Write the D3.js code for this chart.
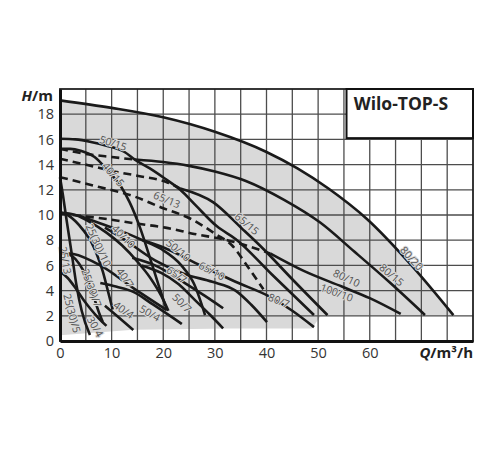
<!DOCTYPE html>
<html><head><meta charset="utf-8">
<script src="https://cdnjs.cloudflare.com/ajax/libs/d3/7.8.5/d3.min.js"></script>
<style>body{margin:0;background:#fff}</style>
</head><body>
<svg id="c" width="500" height="450"></svg>
<script>
// ---- data (Q in m3/h, H in m) ----
const xTicks = [0,10,20,30,40,50,60];
const yTicks = [0,2,4,6,8,10,12,14,16,18];
const c80_20 = [[0,19.1],[10,18.5],[20,17.75],[30,16.6],[40,15.0],[46,13.7],[52,12.1],[59.4,9.7],[68.3,5.9],[76.2,2.05]];
const c80_15a = [[0,15.25],[5,14.85],[10,14.6],[14.5,14.4]];
const c80_15 = [[14.5,14.4],[20,14.2],[25,13.9],[30,13.45],[36,12.7],[43.4,11.2],[50.4,9.4],[57,7.1],[64,4.6],[70.7,2.06]];
const c50_15 = [[0,16.05],[3,16.0],[6,15.8],[9,15.5],[12.5,15.0],[14.5,14.4],[17.4,13.7],[20.3,12.9],[23.3,12.0],[26.2,10.8],[30.4,9.1],[34,8.1],[41,5.3],[49.2,2.06]];
const c40_15 = [[0,15.25],[2,15.25],[4,15.1],[6.7,14.6],[9.3,13.5],[11.9,12.2],[13.5,11.0],[15.5,9.0],[17.5,6.5],[19.2,4.3],[20.7,2.45]];
const c65_15a = [[0,14.46],[6.5,13.85],[10,13.5],[15.2,13.1],[20.7,12.6],[23.3,12.1]];
const c65_15 = [[23.3,12.1],[29.7,11.0],[35.3,8.9],[39.4,7.3],[45,4.9],[51.8,2.06]];
const c65_13 = [[0,13.0],[4,12.6],[7.8,12.2],[14.2,11.5],[19.6,10.6],[25.3,9.7],[30.1,8.5],[33.3,7.6],[36.2,6.0],[39.4,4.1]];
const c80_10a = [[0,10.1],[8.7,9.7],[15.2,9.3],[20.4,9.0],[26,8.5],[32.4,8.0],[40.7,6.95]];
const c80_10 = [[40.7,6.95],[47,5.6],[54.7,4.3],[60,3.4],[66,2.15]];
const c25_13 = [[0,13.0],[0.6,11.5],[1.2,9.8],[1.8,8.2],[2.5,6.3],[3.2,4.4],[4.2,2.4],[5.8,0.47]];
const c25_10 = [[0,10.2],[1.5,10.0],[3,9.5],[4.5,8.8],[6,7.9],[7.2,6.8],[8.3,5.5],[9.2,4.1],[10.2,2.5]];
const c25_7 = [[0,7.0],[1.5,6.9],[3,6.5],[4.5,5.6],[5.7,4.5],[6.7,3.3],[7.6,2.2],[8.3,1.5]];
const c25_5 = [[0,5.5],[1.5,5.0],[3,4.2],[4.5,3.3],[6,2.5],[7.5,1.8],[9,1.2]];
const c40_10 = [[0,10.2],[3,10.0],[6,9.4],[9,8.6],[12,7.6],[15,6.3],[17.5,5.0],[19.6,3.6],[21,2.4]];
const c40_7 = [[0,7.0],[2.6,6.9],[7.8,6.0],[14.2,4.2],[20.7,2.45]];
const c40_4 = [[8.7,2.8],[11,2.0],[14.2,0.87]];
const c50_4 = [[7.8,4.6],[11,4.3],[14.2,3.9],[18,2.9],[23.6,1.35]];
const c50_10 = [[4,9.9],[8,9.3],[12,8.7],[16,8.0],[19.6,7.3],[23.5,6.0],[26,4.5],[28.1,2.06]];
const c65_10 = [[8.7,9.0],[11.9,8.2],[18.4,6.4],[24.2,5.3],[29.5,4.7],[34,4.0],[37,2.9],[40.1,1.5]];
const c65_7 = [[14,6.6],[18.4,6.0],[24.2,4.6],[28,3.6],[31.6,2.6]];
const c50_7 = [[15.8,6.0],[19.6,5.4],[23,4.5],[26,3.3],[29,2.1],[31.6,1.0]];
const c80_7 = [[16,8.0],[19.6,7.5],[27.2,6.0],[34,4.7],[40.7,3.5],[45,2.4],[49.2,1.1]];
const areaBottom = [[0,0.45],[7.8,0.7],[14.2,0.9],[33,1.0],[48.8,1.0],[50.5,2.0],[76.2,2.0]];
const labelNames = ["50/15","40/15","65/13","65/15","40/10","25(30)/10","25/13","40/7","25(30)/7","25(30)/5","30/4","40/4","50/4","50/10","65/7","50/7","65/10","80/7","80/10","100/10","80/15","80/20"];
const labelQ = [10.3,10.3,20.7,36.2,12.3,7.4,1.0,12.6,6.1,2.3,6.8,12.3,17.4,22.9,22.6,23.6,29.4,42.4,55.5,53.6,64.2,68.1];
const labelH = [15.7,13.2,11.2,9.3,8.3,7.6,6.4,5.0,4.2,2.2,1.13,2.46,2.2,7.2,5.24,3.0,5.56,3.2,4.98,3.83,5.24,6.56];
const labelAngle = [18,50,22,40,45,65,80,55,70,75,60,35,30,40,35,45,28,22,25,20,40,48];

const series = [
  {d:c80_20},{d:c80_15a,dash:true},{d:c80_15},{d:c50_15},{d:c40_15},
  {d:c65_15a,dash:true},{d:c65_15},{d:c65_13,dash:true},{d:c80_10a,dash:true},{d:c80_10},
  {d:c25_13},{d:c25_10},{d:c25_7},{d:c25_5},{d:c40_10},{d:c40_7},{d:c40_4},{d:c50_4},
  {d:c50_10},{d:c65_10},{d:c65_7},{d:c50_7},{d:c80_7}
];

const svg = d3.select("#c");
const x = d3.scaleLinear().domain([0,80]).range([60,473]);
const y = d3.scaleLinear().domain([0,20]).range([341,89]);
const line = d3.line().x(d=>x(d[0])).y(d=>y(d[1])).curve(d3.curveMonotoneX);
const lineLin = d3.line().x(d=>x(d[0])).y(d=>y(d[1]));

// gray operating area (top follows the 80/20 curve)
const topPath = line(c80_20);
const botPath = lineLin(areaBottom.slice().reverse()).replace(/^M/,"L");
svg.append("path").attr("d", topPath + botPath + "Z").attr("fill","#d9d9d9");

// grid
const g = svg.append("g");
g.selectAll(".vx").data(d3.range(5,80,5)).join("line")
  .attr("x1",d=>x(d)).attr("x2",d=>x(d)).attr("y1",y(0)).attr("y2",y(20))
  .attr("stroke","#4d4d4d").attr("stroke-width",1.3);
g.selectAll(".hy").data(d3.range(2,20,2)).join("line")
  .attr("y1",d=>y(d)).attr("y2",d=>y(d)).attr("x1",x(0)).attr("x2",x(80))
  .attr("stroke","#4d4d4d").attr("stroke-width",1.3);

// curves
svg.append("g").selectAll("path").data(series).join("path")
  .attr("d",s=>line(s.d)).attr("fill","none")
  .attr("stroke","#1a1a1a").attr("stroke-width",2.6)
  .attr("stroke-dasharray",s=>s.dash?"8,5":null);

// labels
svg.append("g").selectAll("text").data(labelNames).join("text")
  .attr("transform",(d,i)=>`translate(${x(labelQ[i])},${y(labelH[i])}) rotate(${labelAngle[i]})`)
  .attr("text-anchor","middle").attr("dy","0.35em")
  .attr("font-family","'Open Sans', sans-serif").attr("font-size",10.5)
  .attr("fill","#505050")
  .attr("stroke","#d9d9d9").attr("stroke-width",2).attr("paint-order","stroke")
  .text(d=>d);

// frame
svg.append("rect").attr("x",x(0)).attr("y",y(20)).attr("width",x(80)-x(0)).attr("height",y(0)-y(20))
  .attr("fill","none").attr("stroke","#222").attr("stroke-width",1.8);

// axes
const xAxis = d3.axisBottom(x).tickValues(xTicks).tickSize(0).tickPadding(7);
const yAxis = d3.axisLeft(y).tickValues(yTicks).tickSize(0).tickPadding(6);
const ax = svg.append("g").attr("transform",`translate(0,${y(0)})`).call(xAxis);
const ay = svg.append("g").attr("transform",`translate(${x(0)},0)`).call(yAxis);
[ax,ay].forEach(a=>{
  a.select(".domain").attr("stroke","#111").attr("stroke-width",3);
  a.selectAll("text").attr("font-family","'Open Sans', sans-serif").attr("font-size",14.5).attr("fill","#333");
});

// title box
svg.append("rect").attr("x",x(55.5)).attr("y",y(20)).attr("width",x(80)-x(55.5)).attr("height",y(16.1)-y(20))
  .attr("fill","#fff").attr("stroke","#111").attr("stroke-width",2);
svg.append("text").attr("x",x(56.9)).attr("y",y(18.5)+2).attr("font-family","'Open Sans', sans-serif")
  .attr("font-weight","bold").attr("font-size",17.5).attr("fill","#222").text("Wilo-TOP-S");

// axis titles
const ht = svg.append("text").attr("x",53).attr("y",101).attr("text-anchor","end")
  .attr("font-family","'Open Sans', sans-serif").attr("font-weight","bold").attr("font-size",15).attr("fill","#222");
ht.append("tspan").attr("font-style","italic").text("H");
ht.append("tspan").text("/m");
const qt = svg.append("text").attr("x",473).attr("y",358).attr("text-anchor","end")
  .attr("font-family","'Open Sans', sans-serif").attr("font-weight","bold").attr("font-size",15).attr("fill","#222");
qt.append("tspan").attr("font-style","italic").text("Q");
qt.append("tspan").text("/m³/h");
</script>
</body></html>
